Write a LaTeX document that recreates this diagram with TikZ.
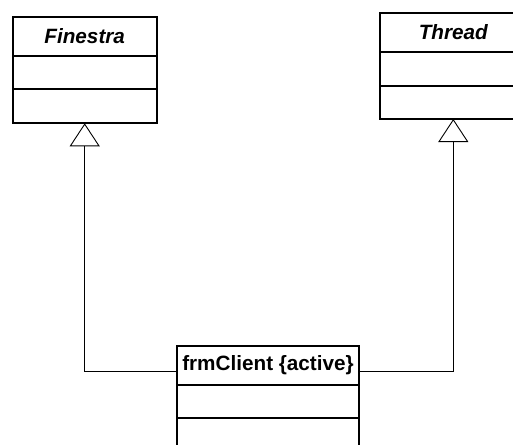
\documentclass[tikz,border=0pt]{standalone}
\usepackage{fontspec}
\setmainfont{Liberation Sans}
\usetikzlibrary{arrows.meta,positioning}

\tikzset{
  classhead/.style={draw, line width=1.8pt, inner sep=0pt, outer sep=0pt, anchor=north,
    font=\fontsize{20.7}{24}\selectfont\bfseries},
  abstracthead/.style={classhead, font=\fontsize{20.7}{24}\selectfont\bfseries\itshape},
  compartment/.style={draw, line width=1.8pt, inner sep=0pt, outer sep=0pt, anchor=north},
  generalization/.style={line width=0.9pt,
    -{Triangle[open, length=23pt, width=30pt, line width=0.9pt]}}
}

\begin{document}
\begin{tikzpicture}[x=1pt, y=-1pt]
\useasboundingbox (0,0) rectangle (513,444);
\clip (0,0) rectangle (513,444);

% abstract class Finestra
\node[abstracthead, minimum width=144pt, minimum height=39pt] (finhead) at (84.7,16.7) {Finestra};
\node[compartment, minimum width=144pt, minimum height=33.6pt] (finattr) at (finhead.south) {};
\node[compartment, minimum width=144pt, minimum height=34pt] (finops) at (finattr.south) {};

% abstract class Thread
\node[abstracthead, minimum width=146.5pt, minimum height=38.4pt] (thrhead) at (453.3,13.3) {Thread};
\node[compartment, minimum width=146.5pt, minimum height=34pt] (thrattr) at (thrhead.south) {};
\node[compartment, minimum width=146.5pt, minimum height=33.3pt] (throps) at (thrattr.south) {};

% active class frmClient
\node[classhead, minimum width=182.6pt, minimum height=39pt] (frmhead) at (268,346) {frmClient \{active\}};
\node[compartment, minimum width=182.6pt, minimum height=32.7pt] (frmattr) at (frmhead.south) {};
\node[compartment, minimum width=182.6pt, minimum height=33pt] (frmops) at (frmattr.south) {};

% generalizations
\draw[generalization] ([yshift=-6.2pt]frmhead.west) -| (finops.south);
\draw[generalization] ([yshift=-6.2pt]frmhead.east) -| (throps.south);
\end{tikzpicture}
\end{document}
